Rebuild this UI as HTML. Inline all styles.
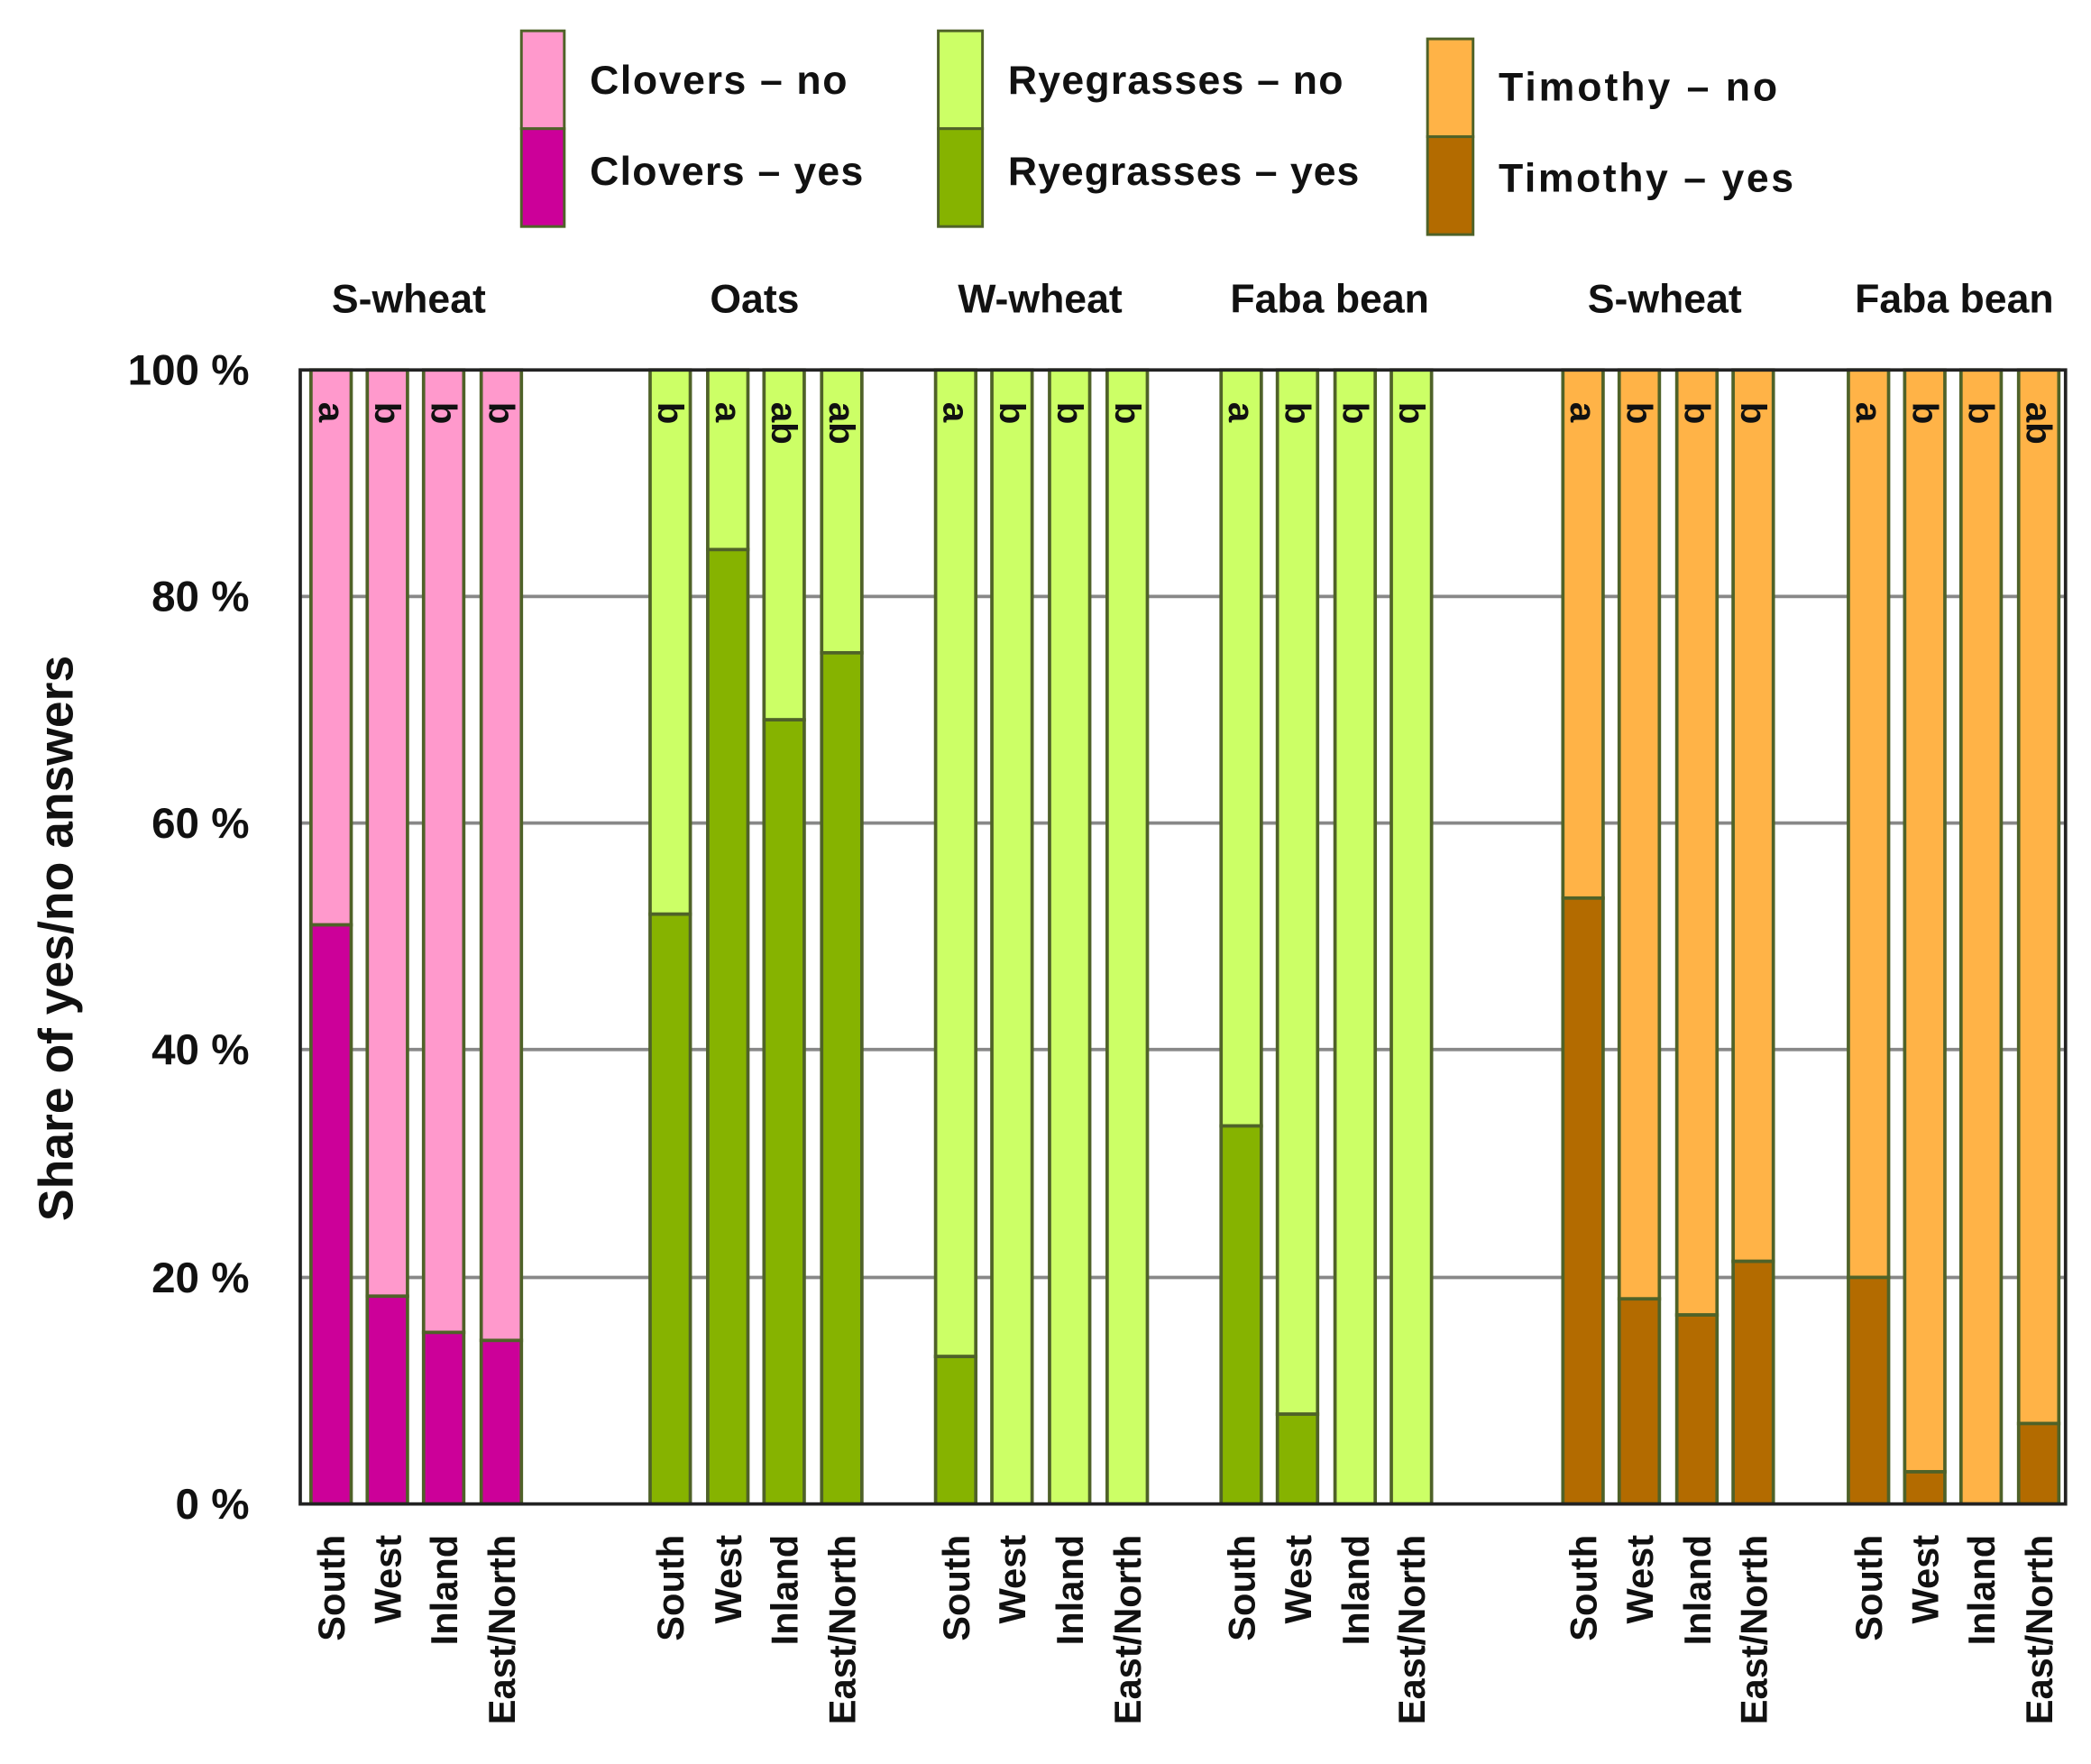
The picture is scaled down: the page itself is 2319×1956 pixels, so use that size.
<!DOCTYPE html>
<html><head><meta charset="utf-8"><style>html,body{margin:0;padding:0;background:#fff}svg{display:block}</style></head>
<body>
<svg width="2319" height="1956" viewBox="0 0 1560 1316" preserveAspectRatio="none" xmlns="http://www.w3.org/2000/svg" font-family="Liberation Sans, sans-serif">
<rect width="1560" height="1316" fill="#fff"/>
<g stroke="#4F6228" stroke-width="2">
<rect x="389" y="23" width="32" height="73" fill="#FF99CC"/><rect x="389" y="96" width="32" height="73" fill="#CC0099"/>
<rect x="700" y="23" width="33" height="73" fill="#CCFF66"/><rect x="700" y="96" width="33" height="73" fill="#86B300"/>
<rect x="1065" y="29" width="34" height="73" fill="#FFB347"/><rect x="1065" y="102" width="34" height="73" fill="#B36B00"/>
</g>
<g font-size="30" font-weight="bold" fill="#111">
<text x="440" y="70" textLength="192">Clovers – no</text><text x="440" y="138" textLength="204">Clovers – yes</text>
<text x="752" y="70" textLength="250">Ryegrasses – no</text><text x="752" y="138" textLength="262">Ryegrasses – yes</text>
<text x="1118" y="75" textLength="208">Timothy – no</text><text x="1118" y="143" textLength="220">Timothy – yes</text>
</g>
<g font-size="30" font-weight="bold" fill="#111" text-anchor="middle">
<text x="305" y="233">S-wheat</text><text x="563" y="233">Oats</text><text x="776" y="233">W-wheat</text>
<text x="992" y="233">Faba bean</text><text x="1242" y="233">S-wheat</text><text x="1458" y="233">Faba bean</text>
</g>
<g stroke="#888" stroke-width="2.5">
<line x1="224" x2="1541" y1="445" y2="445"/><line x1="224" x2="1541" y1="614" y2="614"/>
<line x1="224" x2="1541" y1="783" y2="783"/><line x1="224" x2="1541" y1="953" y2="953"/>
</g>
<g font-size="32" font-weight="bold" fill="#111" text-anchor="end">
<text x="186" y="287">100 %</text><text x="186" y="456">80 %</text><text x="186" y="625">60 %</text>
<text x="186" y="794">40 %</text><text x="186" y="964">20 %</text><text x="186" y="1133">0 %</text>
</g>
<text transform="translate(54,700) rotate(-90)" font-size="36" font-weight="bold" text-anchor="middle" fill="#111">Share of yes/no answers</text>
<g id="bars" stroke="#4F6228" stroke-width="2.5"></g>
<g id="lets" font-size="27" font-weight="bold" fill="#111"></g>
<g id="xl" font-size="28" font-weight="bold" fill="#111" text-anchor="end"></g>
<rect x="224" y="276" width="1317" height="846" fill="none" stroke="#222" stroke-width="2.5"/>
<script>
var B=[[232,690,'#FF99CC','#CC0099','a'],[274,967,'#FF99CC','#CC0099','b'],[316,994,'#FF99CC','#CC0099','b'],[359,1000,'#FF99CC','#CC0099','b'],
[485,682,'#CCFF66','#86B300','b'],[528,410,'#CCFF66','#86B300','a'],[570,537,'#CCFF66','#86B300','ab'],[613,487,'#CCFF66','#86B300','ab'],
[698,1012,'#CCFF66','#86B300','a'],[740,1122,'#CCFF66','#86B300','b'],[783,1122,'#CCFF66','#86B300','b'],[826,1122,'#CCFF66','#86B300','b'],
[911,840,'#CCFF66','#86B300','a'],[953,1055,'#CCFF66','#86B300','b'],[996,1122,'#CCFF66','#86B300','b'],[1038,1122,'#CCFF66','#86B300','b'],
[1166,670,'#FFB347','#B36B00','a'],[1208,969,'#FFB347','#B36B00','b'],[1251,981,'#FFB347','#B36B00','b'],[1293,941,'#FFB347','#B36B00','b'],
[1379,953,'#FFB347','#B36B00','a'],[1421,1098,'#FFB347','#B36B00','b'],[1463,1122,'#FFB347','#B36B00','b'],[1506,1062,'#FFB347','#B36B00','ab']];
var R=['South','West','Inland','East/North'];
var ns='http://www.w3.org/2000/svg',bg=document.getElementById('bars'),lg=document.getElementById('lets'),xg=document.getElementById('xl');
B.forEach(function(b,i){
 var w=30,x=b[0];
 var r1=document.createElementNS(ns,'rect');r1.setAttribute('x',x);r1.setAttribute('y',276);r1.setAttribute('width',w);r1.setAttribute('height',b[1]-276);r1.setAttribute('fill',b[2]);bg.appendChild(r1);
 if(b[1]<1122){var r2=document.createElementNS(ns,'rect');r2.setAttribute('x',x);r2.setAttribute('y',b[1]);r2.setAttribute('width',w);r2.setAttribute('height',1122-b[1]);r2.setAttribute('fill',b[3]);bg.appendChild(r2);}
 var t=document.createElementNS(ns,'text');t.setAttribute('transform','translate('+(x+6)+',300) rotate(90)');t.textContent=b[4];lg.appendChild(t);
 var u=document.createElementNS(ns,'text');u.setAttribute('transform','translate('+(x+25)+',1145) rotate(-90)');u.textContent=R[i%4];xg.appendChild(u);
});
</script>
</svg>
</body></html>
